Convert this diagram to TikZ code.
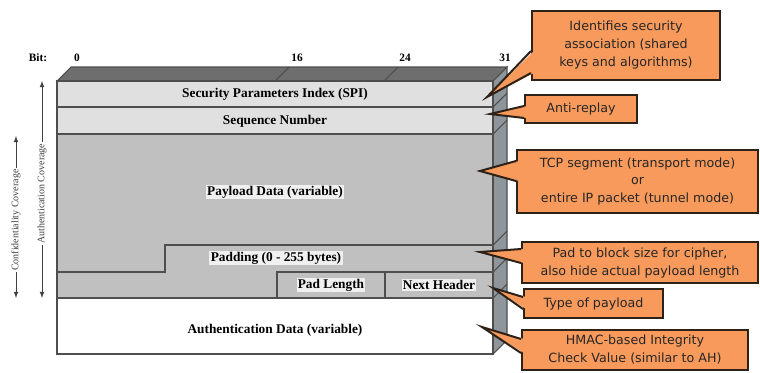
\documentclass[tikz,border=0pt]{standalone}
\usepackage{fontspec}
\setmainfont{Liberation Serif}
\newfontfamily\notefont{DejaVu Sans}
\usepackage{tikz}
\usetikzlibrary{arrows,calc}
\usepackage{color}
\definecolor{noteorange}{HTML}{F89A5C}
\definecolor{noteedge}{HTML}{2E2118}
\definecolor{lightrow}{HTML}{E0E0E0}
\definecolor{midrow}{HTML}{C0C0C0}
\definecolor{topgray}{HTML}{6E6E6E}
\definecolor{sidegray}{HTML}{8E959B}
\definecolor{rowline}{HTML}{4E4E4E}

\tikzset{
  field/.style={font=\bfseries\fontsize{10}{11}\selectfont,inner sep=1pt},
  bitlabel/.style={font=\bfseries\fontsize{8.5}{9}\selectfont,inner sep=0pt},
  cover/.style={font=\fontsize{7.5}{8}\selectfont,fill=white,inner sep=1pt,rotate=90},
  coverline/.style={latex-latex,black!75,line width=0.6pt},
  note/.style={draw=noteedge,line width=1.5pt,fill=noteorange,text=black!85,
    font=\notefont\fontsize{9.5}{13.5}\selectfont,align=center,inner sep=0pt},
  wedge/.style={fill=noteorange},
  wedgeline/.style={draw=noteedge,line width=1.5pt,line join=miter}
}

\begin{document}
\begin{tikzpicture}[x=0.75pt,y=-0.75pt]
\useasboundingbox (0,0) rectangle (760,372);
% top and side faces
\draw[rowline,thick,fill=topgray] (57,81) -- (71,67) -- (507,67) -- (493,81) -- cycle;
\draw[rowline,thick,fill=sidegray] (493,81) -- (507,67) -- (507,340) -- (493,354) -- cycle;
\draw[rowline,thick] (275,81) -- (289,67);
\draw[rowline,thick] (384,81) -- (398,67);
\foreach \y in {107,134,245,272,298}
  \draw[rowline,thick] (493,\y) -- (507,\y-14);
% rows
\draw[rowline,thick,fill=lightrow] (57,81) rectangle (493,107);
\draw[rowline,thick,fill=lightrow] (57,107) rectangle (493,134);
\draw[rowline,thick,fill=midrow] (57,134) rectangle (493,298);
\draw[rowline,thick] (57,272) -- (165,272) -- (165,245) -- (493,245);
\draw[rowline,thick] (277,272) rectangle (385,298);
\draw[rowline,thick] (385,272) rectangle (493,298);
\draw[rowline,thick,fill=white] (57,298) rectangle (493,354);
\draw[rowline,thick] (57,81) rectangle (493,354);
% field names
\node[field,fill=lightrow] (spi) at (275,94) {Security Parameters Index (SPI)};
\node[field,fill=lightrow] (seq) at (275,121) {Sequence Number};
\node[field,fill=gray!12] (payload) at (275,192) {Payload Data (variable)};
\node[field,fill=gray!12] (padding) at (276,258) {Padding (0 - 255 bytes)};
\node[field,fill=gray!12] (padlen) at (331,285) {Pad Length};
\node[field,fill=gray!12] (nexthdr) at (439,285) {Next Header};
\node[field] (icv) at (275,330) {Authentication Data (variable)};
% bit numbers
\node[bitlabel] (bit) at (38,58) {Bit:};
\node[bitlabel] (b0) at (77,58) {0};
\node[bitlabel] (b16) at (297,58) {16};
\node[bitlabel] (b24) at (405,58) {24};
\node[bitlabel] (b31) at (505,58) {31};
% coverage arrows
\coordinate (auth-top) at (42,81);
\coordinate (auth-bot) at (42,298);
\coordinate (conf-top) at (16,136);
\coordinate (conf-bot) at (16,298);
\draw[coverline] (auth-top) -- (auth-bot)
  node[cover,pos=0.52] (auth) {Authentication Coverage};
\draw[coverline] (conf-top) -- (conf-bot)
  node[cover,pos=0.52] (conf) {Confidentiality Coverage};
% callouts
\node[note,minimum width=141pt,minimum height=51.75pt] (spi-note) at (626,45.5)
  {Identifies security\\association (shared\\keys and algorithms)};
\node[note,minimum width=84pt,minimum height=21pt] (seq-note) at (581,109) {Anti-replay};
\node[note,minimum width=180.75pt,minimum height=47.25pt] (payload-note) at (637.5,181.5)
  {TCP segment (transport mode)\\or\\entire IP packet (tunnel mode)};
\node[note,minimum width=177pt,minimum height=30.75pt] (pad-note) at (640,262.5)
  {Pad to block size for cipher,\\also hide actual payload length};
\node[note,minimum width=104.25pt,minimum height=21.75pt] (next-note) at (593.5,303.5) {Type of payload};
\node[note,minimum width=169.5pt,minimum height=30pt] (icv-note) at (635,350)
  {HMAC-based Integrity\\Check Value (similar to AH)};
% pointers
\coordinate (spi-tip) at (487,97);
\coordinate (seq-tip) at (490,114);
\coordinate (payload-tip) at (480,171);
\coordinate (pad-tip) at (480,252);
\coordinate (next-tip) at (493,288);
\coordinate (icv-tip) at (482,327);
\foreach \n/\a/\b in {spi/-30/-8,seq/-18/-6,payload/-53/-33,pad/-35/-21,next/-22/-10,icv/-32/-18}{
  \fill[wedge] ($(\n-note.south west)+(3,\a)$) -- (\n-tip) -- ($(\n-note.south west)+(3,\b)$) -- cycle;
  \draw[wedgeline] ($(\n-note.south west)+(0,\a)$) -- (\n-tip) -- ($(\n-note.south west)+(0,\b)$);
}
\end{tikzpicture}
\end{document}
